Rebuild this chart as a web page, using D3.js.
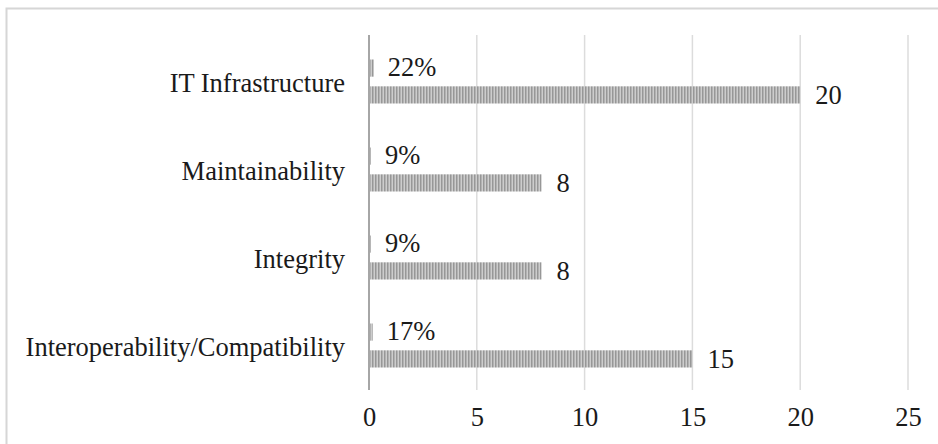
<!DOCTYPE html>
<html>
<head>
<meta charset="utf-8">
<script src="https://cdn.jsdelivr.net/npm/d3@7/dist/d3.min.js"></script>
<style>
  html, body { margin: 0; padding: 0; background: #fff; }
  svg { display: block; }
  text { font-family: "Liberation Serif", "Times New Roman", serif; fill: #1a1a1a; }
</style>
</head>
<body>
<svg id="chart" width="938" height="444"></svg>
<script>
const categories = ["IT Infrastructure", "Maintainability", "Integrity", "Interoperability/Compatibility"];
const counts = [20, 8, 8, 15];
const percents = [22, 9, 9, 17];
const xTicks = [0, 5, 10, 15, 20, 25];

const svg = d3.select("#chart");
const W = 938, H = 444;
const FS = "26.5px";

// outer frame
svg.append("rect")
  .attr("x", 6.5).attr("y", 8.5)
  .attr("width", W + 10).attr("height", H + 10)
  .attr("fill", "#fff").attr("stroke", "#d6d6d6").attr("stroke-width", 2);

// hatch pattern
const defs = svg.append("defs");
const pat = defs.append("pattern")
  .attr("id", "vstripe").attr("patternUnits", "userSpaceOnUse")
  .attr("width", 3).attr("height", 10);
pat.append("rect").attr("width", 3).attr("height", 10).attr("fill", "#cdcdcd");
pat.append("rect").attr("x", 0).attr("width", 1.5).attr("height", 10).attr("fill", "#979797");

const x = d3.scaleLinear().domain([0, 25]).range([369, 908]);
const y = d3.scaleBand().domain(categories).range([37.5, 389.5]).padding(0);
const sub = d3.scaleBand().domain(["pct", "cnt"]).range([-22, 22]).paddingInner(0.36);

const plotTop = 35, plotBottom = 390;

// gridlines
svg.append("g").selectAll("line")
  .data(xTicks.filter(t => t !== 0))
  .join("line")
  .attr("x1", d => x(d)).attr("x2", d => x(d))
  .attr("y1", plotTop).attr("y2", plotBottom)
  .attr("stroke", "#dcdcdc").attr("stroke-width", 1.5);

// x tick labels via axis
const xAxis = d3.axisBottom(x).tickValues(xTicks).tickSize(0).tickPadding(0);
const gx = svg.append("g").attr("transform", `translate(0, 426)`).call(xAxis);
gx.select(".domain").remove();
gx.selectAll("text")
  .attr("y", 0)
  .attr("dy", "0")
  .style("font-size", FS)
  .style("font-family", "'Liberation Serif', 'Times New Roman', serif")
  .attr("fill", "#1a1a1a");

// category labels
svg.append("g").selectAll("text")
  .data(categories)
  .join("text")
  .attr("x", 345)
  .attr("y", d => y(d) + y.bandwidth() / 2 + 1)
  .attr("dy", "0.35em")
  .attr("text-anchor", "end")
  .style("font-size", FS)
  .text(d => d);

const rows = categories.map((c, i) => ({ cat: c, cnt: counts[i], pct: percents[i] }));

const groups = svg.append("g").selectAll("g")
  .data(rows)
  .join("g")
  .attr("transform", d => `translate(0, ${y(d.cat) + y.bandwidth() / 2})`);

// percent bars (value as fraction)
groups.append("rect")
  .attr("x", x(0))
  .attr("y", sub("pct"))
  .attr("width", d => x(d.pct / 100) - x(0))
  .attr("height", sub.bandwidth())
  .attr("fill", "url(#vstripe)");

// count bars
groups.append("rect")
  .attr("x", x(0))
  .attr("y", sub("cnt"))
  .attr("width", d => x(d.cnt) - x(0))
  .attr("height", sub.bandwidth())
  .attr("fill", "url(#vstripe)");

// percent labels
groups.append("text")
  .attr("x", d => x(d.pct / 100) + 14)
  .attr("y", sub("pct") + sub.bandwidth() / 2 - 1)
  .attr("dy", "0.35em")
  .style("font-size", FS)
  .text(d => d.pct + "%");

// count labels
groups.append("text")
  .attr("x", d => x(d.cnt) + 15)
  .attr("y", sub("cnt") + sub.bandwidth() / 2)
  .attr("dy", "0.35em")
  .style("font-size", FS)
  .text(d => d.cnt);

// vertical axis line
svg.append("line")
  .attr("x1", x(0)).attr("x2", x(0))
  .attr("y1", plotTop).attr("y2", plotBottom)
  .attr("stroke", "#a6a6a6").attr("stroke-width", 2);
</script>
</body>
</html>
